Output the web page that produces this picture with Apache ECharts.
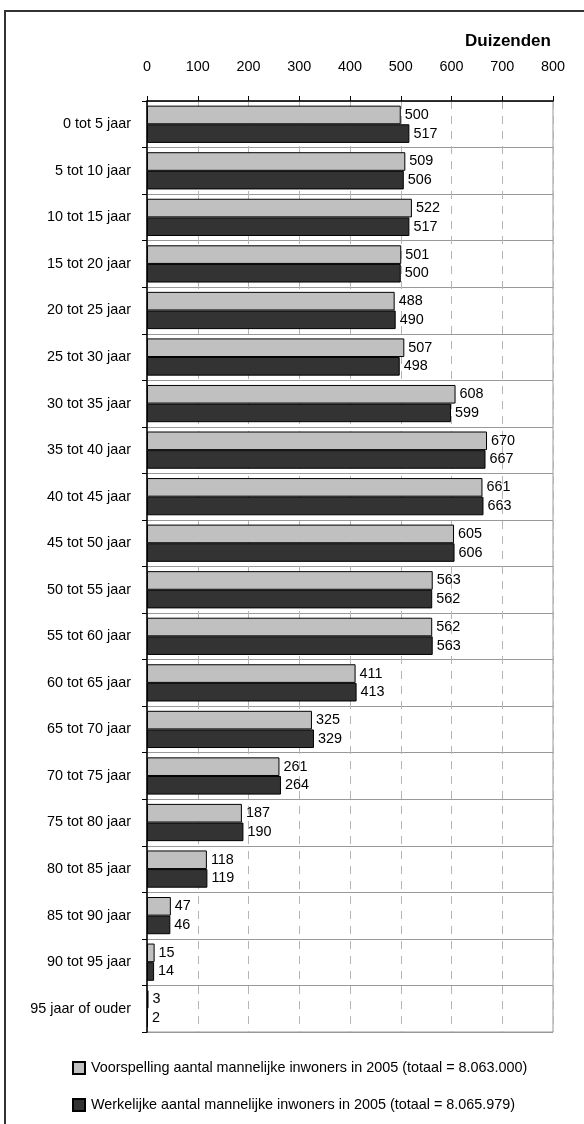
<!DOCTYPE html>
<html>
<head>
<meta charset="utf-8">
<script src="https://cdn.jsdelivr.net/npm/echarts@6/dist/echarts.min.js"></script>
<style>
html,body{margin:0;padding:0;background:#fff;}
#chart{width:584px;height:1124px;}
</style>
</head>
<body>
<div id="chart"></div>
<script>
var categories = ["0 tot 5 jaar","5 tot 10 jaar","10 tot 15 jaar","15 tot 20 jaar","20 tot 25 jaar","25 tot 30 jaar","30 tot 35 jaar","35 tot 40 jaar","40 tot 45 jaar","45 tot 50 jaar","50 tot 55 jaar","55 tot 60 jaar","60 tot 65 jaar","65 tot 70 jaar","70 tot 75 jaar","75 tot 80 jaar","80 tot 85 jaar","85 tot 90 jaar","90 tot 95 jaar","95 jaar of ouder"];
var voorspelling = [500,509,522,501,488,507,608,670,661,605,563,562,411,325,261,187,118,47,15,3];
var werkelijk = [517,506,517,500,490,498,599,667,663,606,562,563,413,329,264,190,119,46,14,2];
var seriesNames = ["Voorspelling aantal mannelijke inwoners in 2005 (totaal = 8.063.000)","Werkelijke aantal mannelijke inwoners in 2005 (totaal = 8.065.979)"];
var unitLabel = "Duizenden";

var FONT = "'Liberation Sans', Arial, sans-serif";
var FS = 14.4;
var chart = echarts.init(document.getElementById('chart'), null, {renderer:'canvas'});
var labelStyle = {show:true, position:'right', distance:4, fontFamily:FONT, fontSize:FS, color:'#000'};
chart.setOption({
  animation:false,
  backgroundColor:'#fff',
  title:{text:unitLabel, left:460, top:28, textStyle:{fontFamily:FONT, fontWeight:'bold', fontSize:17, color:'#000'}},
  grid:{left:147, top:101, right:31, bottom:92, show:true, borderColor:'#999', borderWidth:1, backgroundColor:'transparent'},
  legend:{orient:'vertical', left:72, top:1061, padding:0, icon:'rect', itemWidth:12, itemHeight:12, itemGap:23,
    textStyle:{fontFamily:FONT, fontSize:FS, color:'#000', padding:[0,0,0,1]},
    data:seriesNames},
  xAxis:{type:'value', position:'top', min:0, max:800, interval:100,
    axisLine:{show:true, lineStyle:{color:'#000', width:1.5}},
    axisTick:{show:true, length:5, lineStyle:{color:'#000', width:1}},
    axisLabel:{margin:27, fontFamily:FONT, fontSize:FS, color:'#000'},
    splitLine:{show:true, lineStyle:{color:'#b5b5b5', type:[8,7], width:1}}},
  yAxis:{type:'category', inverse:true, data:categories,
    axisLine:{show:true, lineStyle:{color:'#000', width:1.5}},
    axisTick:{show:true, length:5, lineStyle:{color:'#000', width:1}},
    axisLabel:{margin:16, fontFamily:FONT, fontSize:FS, color:'#000'},
    splitLine:{show:true, lineStyle:{color:'#999', width:1}}},
  series:[
    {name:seriesNames[0], type:'bar', data:voorspelling, barGap:'0%', barCategoryGap:'20%',
     itemStyle:{color:'#c0c0c0', borderColor:'#000', borderWidth:1}, label:labelStyle},
    {name:seriesNames[1], type:'bar', data:werkelijk, barGap:'0%', barCategoryGap:'20%',
     itemStyle:{color:'#333333', borderColor:'#000', borderWidth:1}, label:labelStyle}
  ],
  graphic:[{type:'polyline', shape:{points:[[5,1130],[5,11],[600,11]]}, style:{stroke:'#333', lineWidth:2, fill:null}}]
});
</script>
</body>
</html>
